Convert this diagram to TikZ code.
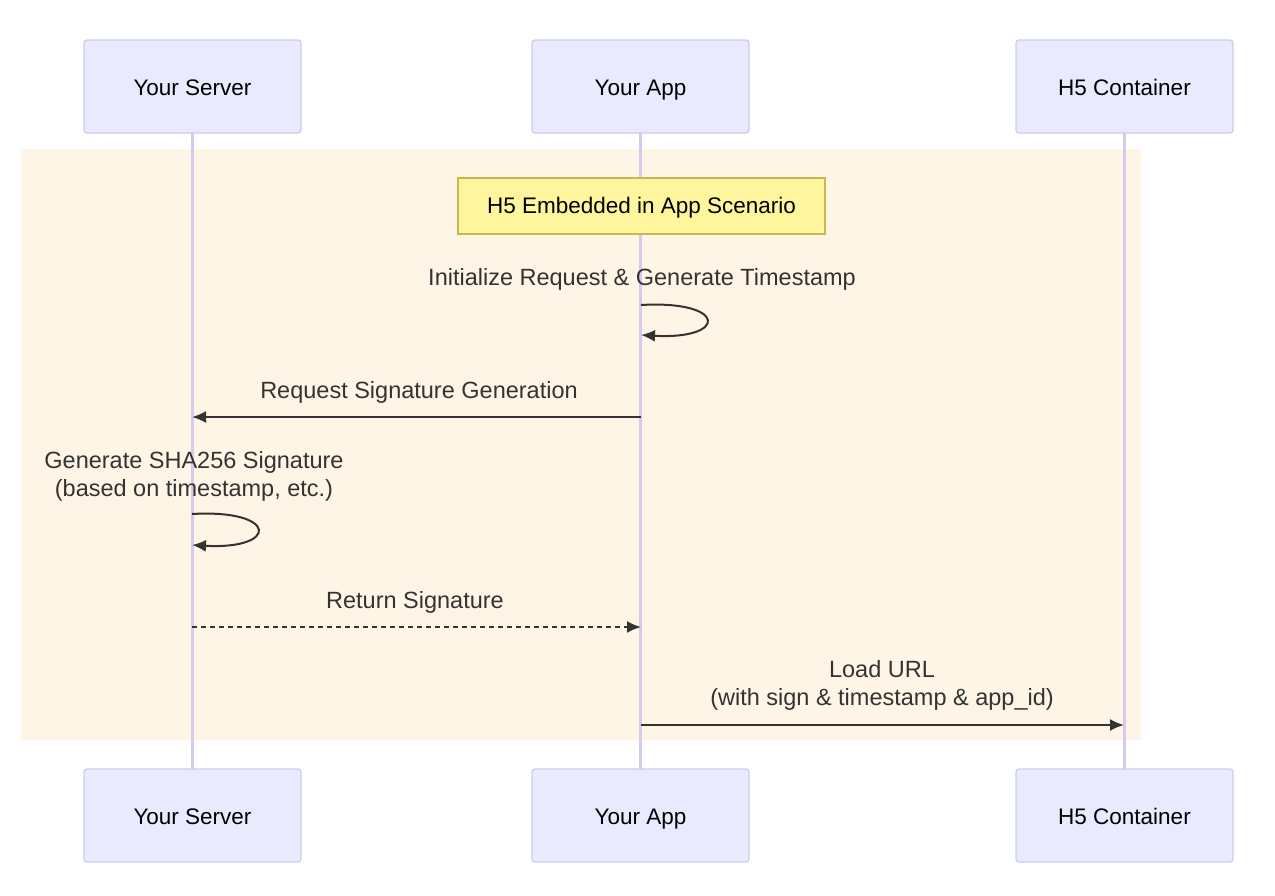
\documentclass[tikz,border=0pt]{standalone}
\usepackage{fontspec}
\setmainfont{Liberation Sans}
\usetikzlibrary{arrows.meta}
\definecolor{actf}{HTML}{EAEAFF}
\definecolor{actd}{HTML}{CCCCEE}
\definecolor{life}{HTML}{D4CCEC}
\definecolor{bg}{HTML}{FFF5E6}
\definecolor{notef}{HTML}{FFF59D}
\definecolor{noted}{HTML}{C8B850}
\definecolor{ink}{HTML}{333333}
\begin{document}
\begin{tikzpicture}[x=1pt,y=-1pt,
 actor/.style={draw=actd,line width=1.3pt,fill=actf,rounded corners=3pt,minimum width=217pt,minimum height=93pt,font=\fontsize{22.5}{26}\selectfont,text=black,text height=18.5pt,text depth=1.5pt},
 msg/.style={draw=ink,line width=2pt,-{Latex[length=14pt,width=12pt]}},
 lbl/.style={font=\fontsize{23.5}{28}\selectfont,text=ink,align=center}]
\useasboundingbox (0,0) rectangle (1275,895);
\fill[bg] (21,149) rectangle (1141,740);
\foreach \n/\x/\t in {s/192.5/Your Server,a/640.5/Your App,h/1124.5/H5 Container}{
  \draw[life,line width=2.6pt] (\x,133) -- (\x,769);
  \node[actor] (\n top) at (\x,86.5) {\t};
  \node[actor] (\n bot) at (\x,815.5) {\t};
}
\node[draw=noted,line width=1.3pt,fill=notef,minimum width=367pt,minimum height=56pt,font=\fontsize{22.5}{26}\selectfont,text height=17pt,text depth=3pt] (note) at (641.5,206) {H5 Embedded in App Scenario};
\node[lbl] (l1) at (642,279) {Initialize Request \& Generate Timestamp};
\coordinate (a1) at (641,305); \coordinate (a2) at (641,335);
\draw[msg] (a1) .. controls (728,300) and (728,340) .. (a2);
\coordinate (r1) at (641,417); \coordinate (r2) at (192,417);
\node[lbl] (l2) at (419,392) {Request Signature Generation};
\draw[msg] (r1) -- (r2);
\node[lbl] (l3) at (194,476) {Generate SHA256 Signature\\(based on timestamp, etc.)};
\coordinate (s1) at (192,514); \coordinate (s2) at (192,545);
\draw[msg] (s1) .. controls (279,509) and (279,550) .. (s2);
\coordinate (t1) at (192,627); \coordinate (t2) at (641,627);
\node[lbl] (l4) at (415,602) {Return Signature};
\draw[msg,dash pattern=on 5pt off 4pt] (t1) -- (t2);
\coordinate (u1) at (641,725); \coordinate (u2) at (1124,725);
\node[lbl] (l5) at (882,685) {Load URL\\(with sign \& timestamp \& app\_id)};
\draw[msg] (u1) -- (u2);
\end{tikzpicture}
\end{document}
